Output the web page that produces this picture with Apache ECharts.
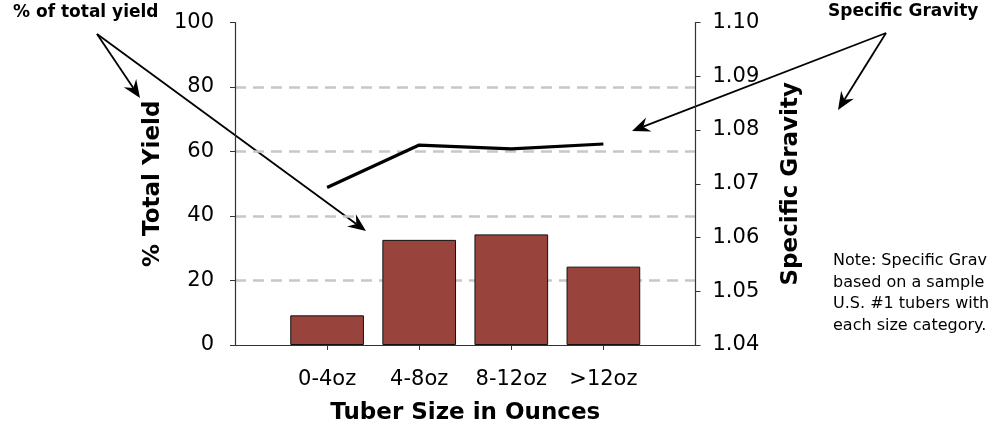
<!DOCTYPE html>
<html>
<head>
<meta charset="utf-8">
<script src="https://cdn.jsdelivr.net/npm/echarts@6/dist/echarts.min.js"></script>
<style>
  html, body { margin: 0; padding: 0; background: #ffffff; }
  #chart { width: 993px; height: 432px; }
</style>
</head>
<body>
<div id="chart"></div>
<script>
// Tuber size classes and their measurements
const sizeCategories = ['0-4oz', '4-8oz', '8-12oz', '>12oz'];
const yieldPercent = [9.2, 32.6, 34.3, 24.3];          // % of total yield per size class
const specificGravity = [1.0693, 1.0772, 1.0765, 1.0774]; // mean specific gravity per size class

// Axis scales
const yieldTicks = [0, 20, 40, 60, 80, 100];
const gravityTicks = ['1.04', '1.05', '1.06', '1.07', '1.08', '1.09', '1.10'];

// The size classes sit one slot in from each end of the category axis
const axisSlots = [''].concat(sizeCategories, ['']);
const pad = (arr) => ['-'].concat(arr, ['-']);

const FONT = 'DejaVu Sans';
const INK = '#000000';

// Annotation arrow: shaft plus a notched arrowhead at (x2, y2)
function arrow(x1, y1, x2, y2) {
  const ang = Math.atan2(y2 - y1, x2 - x1);
  const len = 18, half = 7.5, notch = 12;
  const bx = x2 - len * Math.cos(ang), by = y2 - len * Math.sin(ang);
  const nx = x2 - notch * Math.cos(ang), ny = y2 - notch * Math.sin(ang);
  const px = -Math.sin(ang), py = Math.cos(ang);
  return [
    { type: 'line', silent: true,
      shape: { x1: x1, y1: y1, x2: nx, y2: ny },
      style: { stroke: INK, lineWidth: 1.8 } },
    { type: 'polygon', silent: true,
      shape: { points: [[x2, y2], [bx + px * half, by + py * half], [nx, ny], [bx - px * half, by - py * half]] },
      style: { fill: INK } }
  ];
}

const chart = echarts.init(document.getElementById('chart'), null, { renderer: 'canvas' });

chart.setOption({
  animation: false,
  backgroundColor: '#ffffff',
  grid: { left: 235, right: 297.5, top: 22.5, bottom: 87, containLabel: false },
  xAxis: {
    type: 'category',
    data: axisSlots,
    boundaryGap: false,
    name: 'Tuber Size in Ounces',
    nameLocation: 'middle',
    nameGap: 57,
    nameTextStyle: { fontFamily: FONT, fontWeight: 'bold', fontSize: 23, color: INK },
    axisLine: { lineStyle: { color: '#333', width: 1.2 } },
    axisTick: { show: true, length: 5, interval: (i, v) => v !== '', lineStyle: { color: '#333' } },
    axisLabel: { interval: 0, margin: 24, fontFamily: FONT, fontSize: 21, color: INK },
    splitLine: { show: false }
  },
  yAxis: [
    {
      type: 'value',
      position: 'left',
      min: yieldTicks[0],
      max: yieldTicks[yieldTicks.length - 1],
      interval: yieldTicks[1] - yieldTicks[0],
      name: '% Total Yield',
      nameLocation: 'middle',
      nameRotate: 90,
      nameGap: 70,
      nameTextStyle: { fontFamily: FONT, fontWeight: 'bold', fontSize: 23, color: INK },
      axisLine: { show: true, lineStyle: { color: '#333', width: 1.2 } },
      axisTick: { show: true, length: 5, lineStyle: { color: '#333' } },
      axisLabel: { margin: 21, fontFamily: FONT, fontSize: 21, color: INK },
      splitLine: {
        show: true, showMinLine: false, showMaxLine: false,
        lineStyle: { color: '#c8c8c8', width: 2.5, type: [11, 7] }
      }
    },
    {
      type: 'value',
      position: 'right',
      min: Number(gravityTicks[0]),
      max: Number(gravityTicks[gravityTicks.length - 1]),
      interval: 0.01,
      name: 'Specific Gravity',
      nameLocation: 'middle',
      nameRotate: 90,
      nameGap: 84,
      nameTextStyle: { fontFamily: FONT, fontWeight: 'bold', fontSize: 23, color: INK },
      axisLine: { show: true, lineStyle: { color: '#333', width: 1.2 } },
      axisTick: { show: true, length: 5, lineStyle: { color: '#333' } },
      axisLabel: {
        margin: 17, fontFamily: FONT, fontSize: 21, color: INK,
        formatter: (v) => gravityTicks[Math.round((v - Number(gravityTicks[0])) * 100)]
      },
      splitLine: { show: false }
    }
  ],
  series: [
    {
      name: '% Total Yield',
      type: 'bar',
      yAxisIndex: 0,
      data: pad(yieldPercent),
      barWidth: '80%',
      itemStyle: { color: '#98433c', borderColor: '#111', borderWidth: 1 }
    },
    {
      name: 'Specific Gravity',
      type: 'line',
      yAxisIndex: 1,
      data: pad(specificGravity),
      showSymbol: false,
      symbol: 'none',
      lineStyle: { color: '#000', width: 3.2 },
      z: 5
    }
  ],
  graphic: [
    { type: 'text', left: 13, top: 4, silent: true,
      style: { text: '% of total yield', fontFamily: FONT, fontWeight: 'bold', fontSize: 17, fill: INK } },
    { type: 'text', left: 828, top: 3, silent: true,
      style: { text: 'Specific Gravity', fontFamily: FONT, fontWeight: 'bold', fontSize: 17, fill: INK } },
    { type: 'text', left: 833, top: 250, silent: true,
      style: {
        text: 'Note: Specific Grav\nbased on a sample\nU.S. #1 tubers with\neach size category.',
        fontFamily: FONT, fontSize: 16, lineHeight: 21.7, fill: INK
      } }
  ].concat(
    arrow(97, 34, 140, 98),
    arrow(97, 34, 366, 231),
    arrow(886, 33, 632, 131),
    arrow(886, 33, 838, 110)
  )
});
</script>
</body>
</html>
